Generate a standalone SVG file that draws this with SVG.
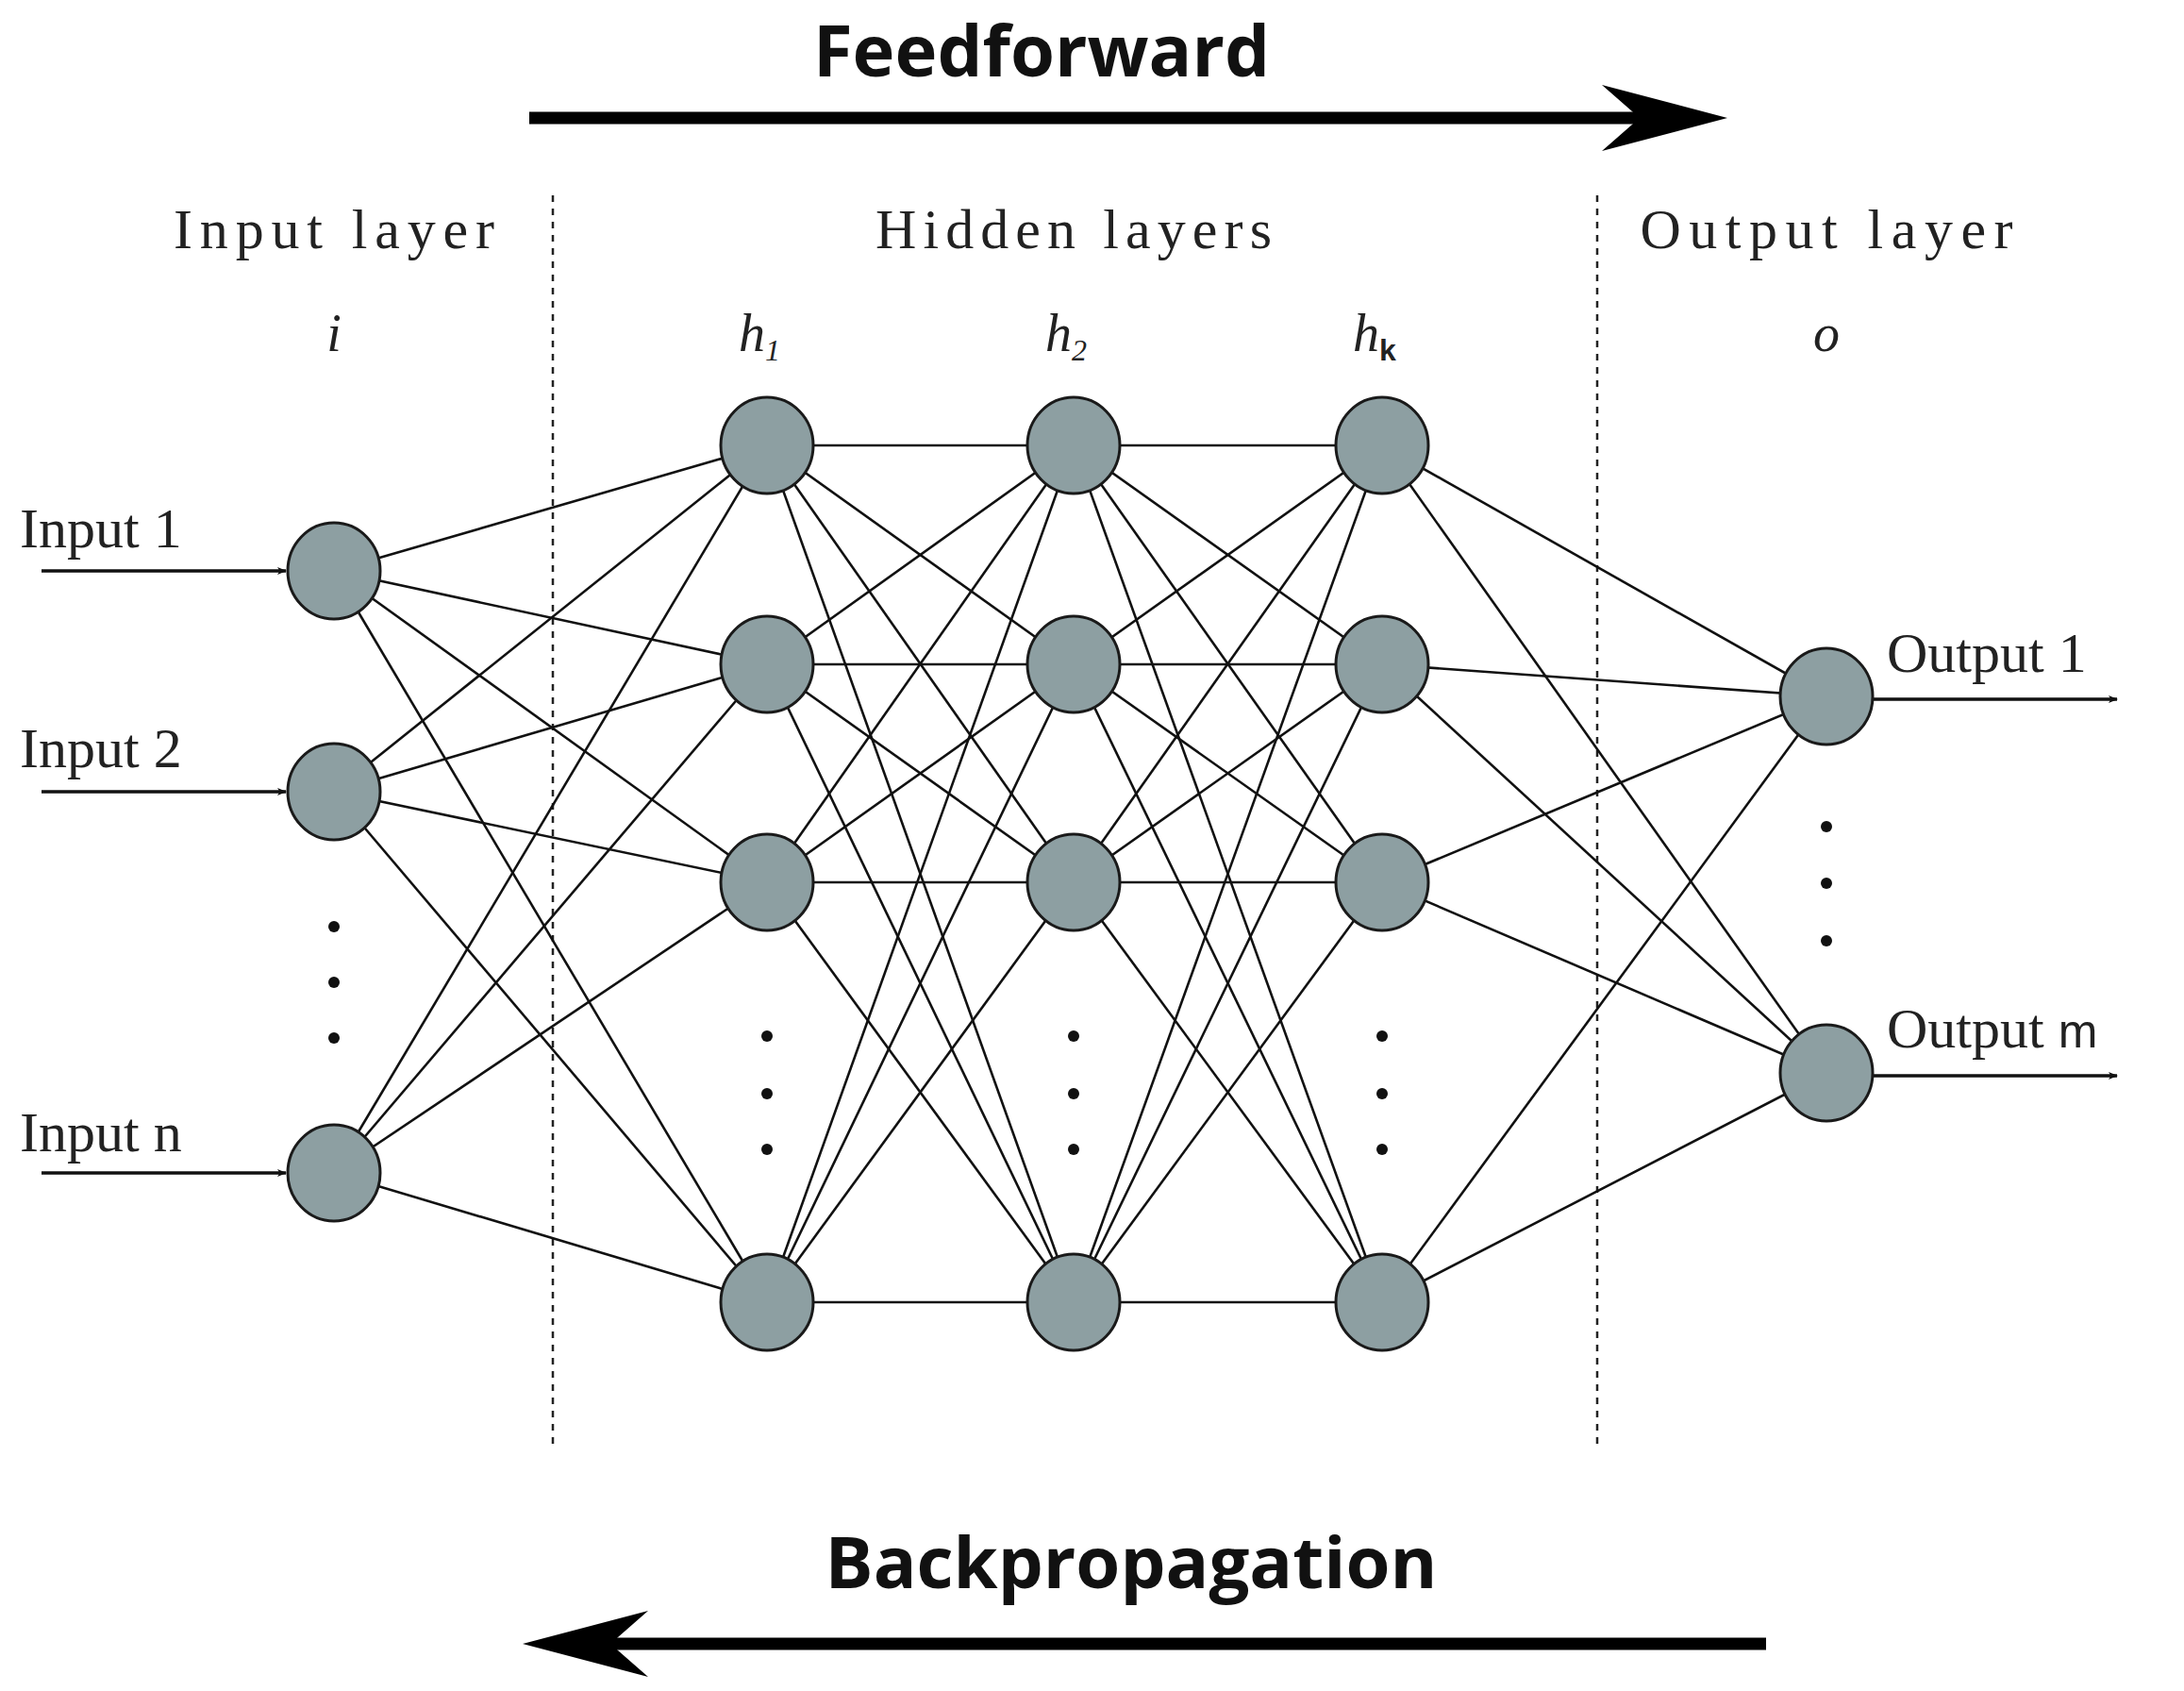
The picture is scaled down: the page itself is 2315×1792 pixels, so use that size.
<svg xmlns="http://www.w3.org/2000/svg" width="2315" height="1792" viewBox="0 0 2315 1792">
<style>
.e line{stroke:#111;stroke-width:2.6}
.n{fill:#8d9fa2;stroke:#1a1a1a;stroke-width:3}
.dot{fill:#111}
.lab{font-family:"Liberation Serif",serif;font-size:60px;fill:#222}
.it{font-family:"Liberation Serif",serif;font-size:56px;font-style:italic;fill:#222}
.big{font-family:"Open Sans","DejaVu Sans",sans-serif;font-weight:bold;font-size:76px;fill:#111;text-anchor:middle}
.dash{stroke:#222;stroke-width:2.5;stroke-dasharray:7,7}
</style>
<defs>
<marker id="a" markerWidth="10" markerHeight="8" refX="9" refY="4" orient="auto" markerUnits="userSpaceOnUse" viewBox="0 0 10 8"><path d="M0,0L10,4L0,8L2.5,4Z" fill="#111"/></marker>
</defs>
<rect width="2315" height="1792" fill="#fff"/>
<text class="big" x="1104" y="81">Feedforward</text>
<line x1="561" y1="125" x2="1760" y2="125" stroke="#000" stroke-width="13"/>
<path d="M1698,90L1831,125L1698,160L1738,125Z" fill="#000"/>
<text class="big" x="1199" y="1683">Backpropagation</text>
<line x1="1872" y1="1742" x2="640" y2="1742" stroke="#000" stroke-width="13"/>
<path d="M687,1707L554,1742L687,1777L647,1742Z" fill="#000"/>
<line class="dash" x1="586" y1="207" x2="586" y2="1536"/>
<line class="dash" x1="1693" y1="207" x2="1693" y2="1536"/>
<text class="lab" x="354" y="263" text-anchor="middle" textLength="340">Input layer</text>
<text class="lab" x="1138" y="263" text-anchor="middle" textLength="420">Hidden layers</text>
<text class="lab" x="1936" y="263" text-anchor="middle" textLength="395">Output layer</text>
<text class="it" x="354" y="372" text-anchor="middle">i</text>
<text class="it" x="805" y="372" text-anchor="middle">h<tspan font-size="32" dy="10">1</tspan></text>
<text class="it" x="1130" y="372" text-anchor="middle">h<tspan font-size="32" dy="10">2</tspan></text>
<text class="it" x="1457" y="372" text-anchor="middle">h<tspan font-size="32" dy="10" font-style="normal" font-family="Liberation Sans,sans-serif" font-weight="bold">k</tspan></text>
<text class="it" x="1936" y="372" text-anchor="middle">o</text>
<g id="connectors" class="e">
<line x1="354" y1="605" x2="813" y2="472"/><line x1="354" y1="605" x2="813" y2="704"/><line x1="354" y1="605" x2="813" y2="935"/><line x1="354" y1="605" x2="813" y2="1380"/>
<line x1="354" y1="839" x2="813" y2="472"/><line x1="354" y1="839" x2="813" y2="704"/><line x1="354" y1="839" x2="813" y2="935"/><line x1="354" y1="839" x2="813" y2="1380"/>
<line x1="354" y1="1243" x2="813" y2="472"/><line x1="354" y1="1243" x2="813" y2="704"/><line x1="354" y1="1243" x2="813" y2="935"/><line x1="354" y1="1243" x2="813" y2="1380"/>
<line x1="813" y1="472" x2="1138" y2="472"/><line x1="813" y1="472" x2="1138" y2="704"/><line x1="813" y1="472" x2="1138" y2="935"/><line x1="813" y1="472" x2="1138" y2="1380"/>
<line x1="813" y1="704" x2="1138" y2="472"/><line x1="813" y1="704" x2="1138" y2="704"/><line x1="813" y1="704" x2="1138" y2="935"/><line x1="813" y1="704" x2="1138" y2="1380"/>
<line x1="813" y1="935" x2="1138" y2="472"/><line x1="813" y1="935" x2="1138" y2="704"/><line x1="813" y1="935" x2="1138" y2="935"/><line x1="813" y1="935" x2="1138" y2="1380"/>
<line x1="813" y1="1380" x2="1138" y2="472"/><line x1="813" y1="1380" x2="1138" y2="704"/><line x1="813" y1="1380" x2="1138" y2="935"/><line x1="813" y1="1380" x2="1138" y2="1380"/>
<line x1="1138" y1="472" x2="1465" y2="472"/><line x1="1138" y1="472" x2="1465" y2="704"/><line x1="1138" y1="472" x2="1465" y2="935"/><line x1="1138" y1="472" x2="1465" y2="1380"/>
<line x1="1138" y1="704" x2="1465" y2="472"/><line x1="1138" y1="704" x2="1465" y2="704"/><line x1="1138" y1="704" x2="1465" y2="935"/><line x1="1138" y1="704" x2="1465" y2="1380"/>
<line x1="1138" y1="935" x2="1465" y2="472"/><line x1="1138" y1="935" x2="1465" y2="704"/><line x1="1138" y1="935" x2="1465" y2="935"/><line x1="1138" y1="935" x2="1465" y2="1380"/>
<line x1="1138" y1="1380" x2="1465" y2="472"/><line x1="1138" y1="1380" x2="1465" y2="704"/><line x1="1138" y1="1380" x2="1465" y2="935"/><line x1="1138" y1="1380" x2="1465" y2="1380"/>
<line x1="1465" y1="472" x2="1936" y2="738"/><line x1="1465" y1="472" x2="1936" y2="1137"/>
<line x1="1465" y1="704" x2="1936" y2="738"/><line x1="1465" y1="704" x2="1936" y2="1137"/>
<line x1="1465" y1="935" x2="1936" y2="738"/><line x1="1465" y1="935" x2="1936" y2="1137"/>
<line x1="1465" y1="1380" x2="1936" y2="738"/><line x1="1465" y1="1380" x2="1936" y2="1137"/>
<g style="stroke-width:3.5">
<line x1="44" y1="605" x2="303" y2="605" marker-end="url(#a)"/>
<line x1="44" y1="839" x2="303" y2="839" marker-end="url(#a)"/>
<line x1="44" y1="1243" x2="303" y2="1243" marker-end="url(#a)"/>
<line x1="1986" y1="741" x2="2244" y2="741" marker-end="url(#a)"/>
<line x1="1986" y1="1140" x2="2244" y2="1140" marker-end="url(#a)"/>
</g>
</g>
<style>.e g line{stroke-width:3.5}</style>
<g id="in1"><ellipse class="n" cx="354" cy="605" rx="49" ry="51"/><text class="lab" x="21" y="580" font-size="58">Input 1</text></g>
<g id="in2"><ellipse class="n" cx="354" cy="839" rx="49" ry="51"/><text class="lab" x="21" y="813">Input 2</text></g>
<g id="inn"><ellipse class="n" cx="354" cy="1243" rx="49" ry="51"/><text class="lab" x="21" y="1220">Input n</text></g>
<g id="h1a"><ellipse class="n" cx="813" cy="472" rx="49" ry="51"/></g>
<g id="h1b"><ellipse class="n" cx="813" cy="704" rx="49" ry="51"/></g>
<g id="h1c"><ellipse class="n" cx="813" cy="935" rx="49" ry="51"/></g>
<g id="h1d"><ellipse class="n" cx="813" cy="1380" rx="49" ry="51"/></g>
<g id="h2a"><ellipse class="n" cx="1138" cy="472" rx="49" ry="51"/></g>
<g id="h2b"><ellipse class="n" cx="1138" cy="704" rx="49" ry="51"/></g>
<g id="h2c"><ellipse class="n" cx="1138" cy="935" rx="49" ry="51"/></g>
<g id="h2d"><ellipse class="n" cx="1138" cy="1380" rx="49" ry="51"/></g>
<g id="hka"><ellipse class="n" cx="1465" cy="472" rx="49" ry="51"/></g>
<g id="hkb"><ellipse class="n" cx="1465" cy="704" rx="49" ry="51"/></g>
<g id="hkc"><ellipse class="n" cx="1465" cy="935" rx="49" ry="51"/></g>
<g id="hkd"><ellipse class="n" cx="1465" cy="1380" rx="49" ry="51"/></g>
<g id="o1"><ellipse class="n" cx="1936" cy="738" rx="49" ry="51"/><text class="lab" x="2000" y="712">Output 1</text></g>
<g id="om"><ellipse class="n" cx="1936" cy="1137" rx="49" ry="51"/><text class="lab" x="2000" y="1110">Output <tspan font-family="Liberation Sans,sans-serif" font-size="50">m</tspan></text></g>
<g id="dots">
<circle class="dot" cx="354" cy="982" r="6"/><circle class="dot" cx="354" cy="1041" r="6"/><circle class="dot" cx="354" cy="1100" r="6"/>
<circle class="dot" cx="813" cy="1098" r="6"/><circle class="dot" cx="813" cy="1159" r="6"/><circle class="dot" cx="813" cy="1218" r="6"/>
<circle class="dot" cx="1138" cy="1098" r="6"/><circle class="dot" cx="1138" cy="1159" r="6"/><circle class="dot" cx="1138" cy="1218" r="6"/>
<circle class="dot" cx="1465" cy="1098" r="6"/><circle class="dot" cx="1465" cy="1159" r="6"/><circle class="dot" cx="1465" cy="1218" r="6"/>
<circle class="dot" cx="1936" cy="876" r="6"/><circle class="dot" cx="1936" cy="936" r="6"/><circle class="dot" cx="1936" cy="997" r="6"/>
</g>
</svg>
